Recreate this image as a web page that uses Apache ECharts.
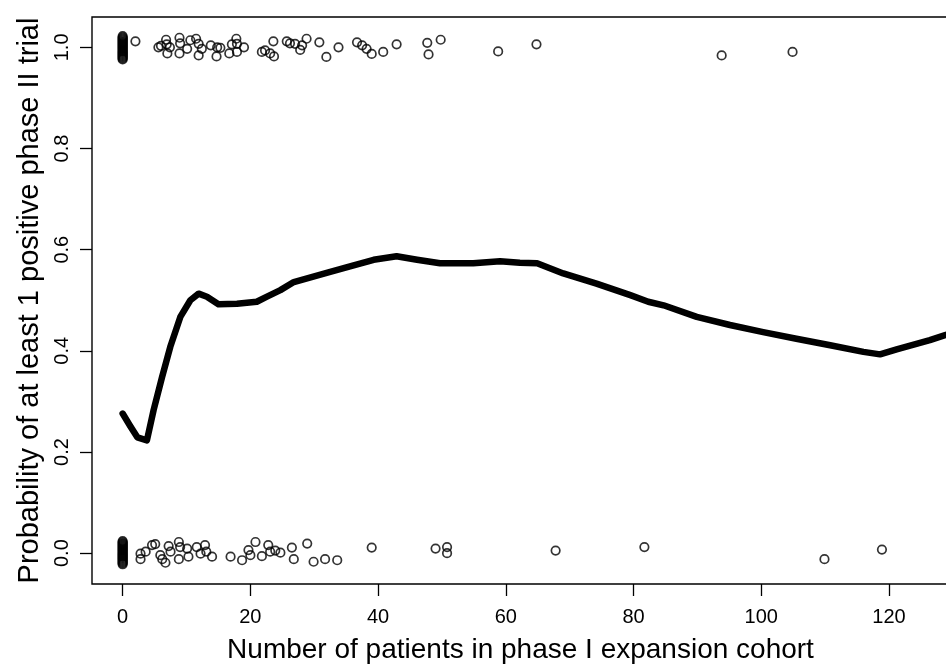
<!DOCTYPE html>
<html>
<head>
<meta charset="utf-8">
<script src="https://cdn.jsdelivr.net/npm/echarts@6/dist/echarts.min.js"></script>
<style>
  html, body { margin: 0; padding: 0; background: #fff; }
  #chart { width: 946px; height: 664px; }
</style>
</head>
<body>
<div id="chart"></div>
<script>
// jittered outcomes: trials with at least one positive phase II (y ~ 1)
var posX = [2.0, 5.6, 6.0, 6.8, 6.9, 7.0, 7.4, 8.9, 9.0, 8.9, 10.1, 10.6, 11.5, 11.9, 11.9, 12.4,
  13.8, 14.8, 14.7, 15.3, 16.7, 17.1, 17.8, 17.9, 17.9, 19.0, 21.8, 22.3, 23.6, 23.7, 23.1,
  25.7, 26.2, 27.0, 27.8, 28.8, 28.1, 30.8, 31.9, 33.8, 36.7, 37.5, 38.2, 39.0, 40.8,
  42.9, 47.7, 47.9, 49.8, 58.8, 64.8, 93.8, 104.9];
var posY = [1.012, 1.000, 1.003, 1.015, 1.006, 0.988, 1.000, 1.019, 1.008, 0.988, 0.997, 1.014, 1.017, 1.007, 0.984, 0.997,
  1.004, 1.000, 0.982, 0.999, 0.988, 1.006, 1.017, 1.007, 0.991, 1.000, 0.991, 0.994, 1.012, 0.982, 0.988,
  1.012, 1.008, 1.007, 0.995, 1.017, 1.004, 1.010, 0.981, 1.000, 1.010, 1.004, 0.997, 0.987, 0.991,
  1.006, 1.009, 0.986, 1.015, 0.992, 1.006, 0.984, 0.991];

// trials with no positive phase II (y ~ 0)
var negX = [2.8, 2.8, 3.6, 4.6, 5.1, 5.9, 6.2, 6.7, 7.2, 7.5, 8.8, 9.0, 8.8, 10.1, 10.3, 11.6, 12.2,
  12.9, 13.1, 14.0, 16.9, 18.7, 19.7, 20.0, 20.8, 21.8, 22.8, 23.1, 23.9, 24.7, 26.5, 26.8,
  28.9, 29.9, 31.7, 33.6, 39.0, 49.0, 50.8, 50.8, 67.8, 81.7, 109.9, 118.9];
var negY = [-0.001, -0.012, 0.003, 0.016, 0.018, -0.004, -0.012, -0.019, 0.014, 0.003, 0.022, 0.012, -0.012, 0.009, -0.007, 0.012, -0.001,
  0.016, 0.003, -0.007, -0.007, -0.014, 0.006, -0.004, 0.022, -0.006, 0.016, 0.003, 0.005, 0.001, 0.011, -0.012,
  0.019, -0.017, -0.012, -0.014, 0.011, 0.009, 0.0, 0.012, 0.005, 0.012, -0.012, 0.007];

// the many trials with no expansion cohort, stacked at x = 0
var zeroPosY = [0.976, 0.978, 0.980, 0.982, 0.984, 0.986, 0.988, 0.990, 0.992, 0.994, 0.996, 0.998, 1.000,
  1.002, 1.004, 1.006, 1.008, 1.010, 1.012, 1.014, 1.016, 1.018, 1.020, 1.022];
var zeroNegY = [-0.022, -0.020, -0.018, -0.016, -0.014, -0.012, -0.010, -0.008, -0.006, -0.004, -0.002, 0.0,
  0.002, 0.004, 0.006, 0.008, 0.010, 0.012, 0.014, 0.016, 0.018, 0.020, 0.022, 0.024];

// smoothed probability curve
var fitX = [0, 1.2, 2.3, 3.8, 4.85, 6.17, 7.46, 9.03, 10.6, 11.9, 13.2, 15.0, 17.9, 21.0, 22.6, 24.7, 26.8,
  32.5, 35.6, 39.3, 42.9, 46.1, 49.7, 54.9, 59.1, 62.2, 64.9, 69.0, 74.2, 79.5, 82.3,
  84.7, 89.9, 95.1, 100.3, 105.5, 110.8, 116.0, 118.6, 121.2, 126.4, 128.8, 130];
var fitY = [0.276, 0.251, 0.229, 0.223, 0.283, 0.348, 0.408, 0.467, 0.500, 0.513, 0.507, 0.492, 0.493, 0.497, 0.507, 0.520, 0.536,
  0.556, 0.567, 0.580, 0.587, 0.580, 0.573, 0.573, 0.577, 0.574, 0.573, 0.553, 0.533, 0.510, 0.497,
  0.490, 0.467, 0.451, 0.437, 0.424, 0.411, 0.398, 0.393, 0.403, 0.421, 0.431, 0.436];

var xTicks = [0, 20, 40, 60, 80, 100, 120];
var yTicks = [0, 0.2, 0.4, 0.6, 0.8, 1.0];

function pairs(xs, ys) {
  return xs.map(function (x, i) { return [x, ys[i]]; });
}

var pointData = pairs(posX, posY)
  .concat(pairs(negX, negY))
  .concat(zeroPosY.map(function (y) { return [0, y]; }))
  .concat(zeroNegY.map(function (y) { return [0, y]; }));

var font = 'Liberation Sans, Arial, Helvetica, sans-serif';

var chart = echarts.init(document.getElementById('chart'));
chart.setOption({
  animation: false,
  backgroundColor: '#fff',
  grid: {
    left: 92,
    top: 17,
    right: -3,
    bottom: 80,
    outerBoundsMode: 'none',
    containLabel: false,
    show: true,
    borderColor: '#000',
    borderWidth: 1.4,
    backgroundColor: 'transparent'
  },
  xAxis: {
    type: 'value',
    min: -4.8,
    max: 129.4,
    name: 'Number of patients in phase I expansion cohort',
    nameLocation: 'middle',
    nameGap: 52,
    nameTextStyle: { fontFamily: font, fontSize: 28, color: '#000' },
    splitLine: { show: false },
    axisLine: { show: false, onZero: false },
    axisTick: {
      show: true,
      length: 12,
      lineStyle: { color: '#000', width: 1.3 },
      customValues: xTicks
    },
    axisLabel: {
      margin: 23,
      fontFamily: font,
      fontSize: 20,
      color: '#000',
      customValues: xTicks
    }
  },
  yAxis: {
    type: 'value',
    min: -0.061,
    max: 1.06,
    name: 'Probability of at least 1 positive phase II trial',
    nameLocation: 'middle',
    nameGap: 47,
    nameTextStyle: { fontFamily: font, fontSize: 29, color: '#000' },
    splitLine: { show: false },
    axisLine: { show: false, onZero: false },
    axisTick: {
      show: true,
      length: 12,
      lineStyle: { color: '#000', width: 1.3 },
      customValues: yTicks
    },
    axisLabel: {
      rotate: 90,
      margin: 20,
      fontFamily: font,
      fontSize: 20,
      color: '#000',
      customValues: yTicks,
      formatter: function (v) { return v.toFixed(1); }
    }
  },
  series: [
    {
      name: 'trials',
      type: 'scatter',
      data: pointData,
      symbol: 'circle',
      symbolSize: 8.5,
      itemStyle: { color: 'rgba(0,0,0,0)', borderColor: '#000', borderWidth: 1.7 },
      silent: true
    },
    {
      name: 'fit',
      type: 'line',
      data: pairs(fitX, fitY),
      showSymbol: false,
      symbol: 'none',
      smooth: false,
      lineStyle: { color: '#000', width: 6.5, cap: 'round', join: 'round' },
      silent: true
    }
  ]
});
</script>
</body>
</html>
